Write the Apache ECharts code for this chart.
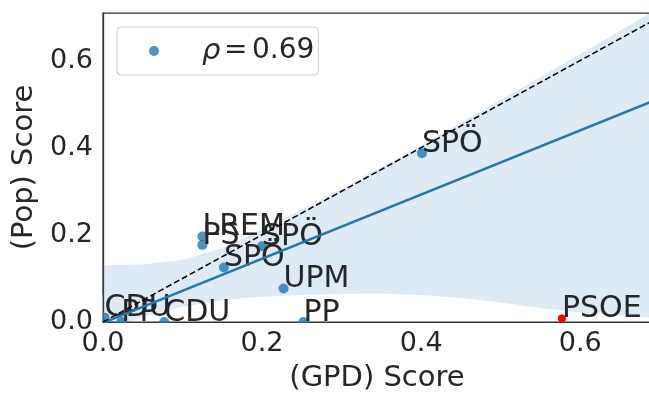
<!DOCTYPE html>
<html>
<head>
<meta charset="utf-8">
<script src="https://cdn.jsdelivr.net/npm/echarts@6/dist/echarts.min.js"></script>
<style>html,body{margin:0;padding:0;background:#fff;}#c{width:649px;height:393px;}</style>
</head>
<body>
<div id="c"></div>
<script>
// ---- data ----
const pointNames = ['LREM', 'PS', 'SPÖ', 'SPÖ', 'UPM', 'PP', 'CDU', 'PP', 'CDU', 'SPÖ'];
const gpdScore   = [0.125, 0.125, 0.200, 0.152, 0.227, 0.252, 0.002, 0.023, 0.077, 0.401];
const popScore   = [0.196, 0.177, 0.174, 0.125, 0.077, 0.000, 0.010, 0.000, 0.000, 0.387];
const outlierName = ['PSOE'];
const outlierGpd  = [0.577];
const outlierPop  = [0.008];
const regX = [0, 0.75];
const regY = [-0.002, 0.55];
const diagX = [0, 0.75];
const diagY = [0, 0.75];
const bandX    = [0, 0.05, 0.1, 0.15, 0.2, 0.25, 0.3, 0.35, 0.4, 0.45, 0.5, 0.55, 0.6, 0.65, 0.7, 0.75];
const bandHigh = [0.130, 0.132, 0.142, 0.170, 0.212, 0.258, 0.305, 0.355, 0.405, 0.457, 0.510, 0.562, 0.615, 0.668, 0.722, 0.775];
const bandLow  = [-0.030, 0.012, 0.035, 0.050, 0.058, 0.062, 0.064, 0.065, 0.062, 0.055, 0.045, 0.032, 0.022, 0.015, 0.008, 0.002];
const xTicks = [0, 0.2, 0.4, 0.6];
const yTicks = [0, 0.2, 0.4, 0.6];
const xMax = 0.689, yMax = 0.709;
const legendLabel = 'ρ = 0.69';

const FONT = 'DejaVu Sans';
const TXT = '#262626';
const isTick = (arr, v) => arr.some(t => Math.abs(t - v) < 1e-6);

const chart = echarts.init(document.getElementById('c'), null, {renderer: 'canvas'});
chart.setOption({
  animation: false,
  backgroundColor: '#ffffff',
  textStyle: {fontFamily: FONT, color: TXT},
  grid: {left: 103, top: 13, width: 548, height: 309, outerBoundsMode: 'none', containLabel: false,
    show: true, borderColor: '#333333', borderWidth: 1.25, backgroundColor: 'transparent'},
  legend: {
    left: 117, top: 27,
    padding: [9, 4, 9, 32],
    backgroundColor: 'rgba(255,255,255,0.8)',
    borderColor: '#d0d0d0', borderWidth: 1, borderRadius: 4,
    itemWidth: 10, itemHeight: 10,
    data: [{name: legendLabel, icon: 'circle', itemStyle: {color: '#1f77b4', opacity: 0.8}}],
    formatter: () => '{s| }{a|ρ}{e|=}{b|0.69}',
    textStyle: {
      fontFamily: FONT, color: TXT, fontSize: 28, lineHeight: 30,
      rich: {
        s: {width: 38, fontSize: 28, lineHeight: 30},
        a: {fontFamily: FONT, fontStyle: 'italic', fontSize: 29, color: TXT, lineHeight: 30, width: 22},
        e: {fontFamily: FONT, fontSize: 28, color: TXT, lineHeight: 30, width: 28},
        b: {fontFamily: FONT, fontSize: 28, color: TXT, lineHeight: 30}
      }
    }
  },
  xAxis: {
    type: 'value', min: 0, max: xMax, interval: 0.2,
    name: '(GPD) Score', nameLocation: 'middle', nameGap: 42,
    nameTextStyle: {fontFamily: FONT, fontSize: 29, color: TXT},
    axisLine: {show: true, onZero: false, lineStyle: {color: '#333333', width: 1.25}},
    axisTick: {show: false},
    splitLine: {show: false},
    axisLabel: {fontFamily: FONT, fontSize: 27, color: TXT, margin: 8,
      formatter: v => isTick(xTicks, v) ? v.toFixed(1) : ''}
  },
  yAxis: {
    type: 'value', min: 0, max: yMax, interval: 0.2,
    name: '(Pop) Score', nameLocation: 'middle', nameGap: 58,
    nameTextStyle: {fontFamily: FONT, fontSize: 29, color: TXT},
    axisLine: {show: true, onZero: false, lineStyle: {color: '#333333', width: 1.25}},
    axisTick: {show: false},
    splitLine: {show: false},
    axisLabel: {fontFamily: FONT, fontSize: 27, color: TXT, margin: 10,
      formatter: v => isTick(yTicks, v) ? v.toFixed(1) : ''}
  },
  graphic: [
    {type: 'rect', z: 5, silent: true, shape: {x: 96, y: 323, width: 560, height: 4.5}, style: {fill: '#ffffff'}},
    {type: 'rect', z: 5, silent: true, shape: {x: 95, y: 295, width: 7.3, height: 32}, style: {fill: '#ffffff'}}
  ],
  series: [
    {
      type: 'custom', name: 'band', z: 1, clip: true, silent: true,
      data: bandX.map((x, i) => [x, bandHigh[i]]),
      renderItem: (params, api) => {
        if (params.dataIndex !== 0) return null;
        const pts = [];
        for (let i = 0; i < bandX.length; i++) pts.push(api.coord([bandX[i], bandHigh[i]]));
        for (let i = bandX.length - 1; i >= 0; i--) pts.push(api.coord([bandX[i], bandLow[i]]));
        return {type: 'polygon', shape: {points: pts}, style: {fill: 'rgba(31,119,180,0.15)'}};
      }
    },
    {
      type: 'scatter', name: legendLabel, z: 3,
      symbol: 'circle', symbolSize: 10,
      itemStyle: {color: '#1f77b4', opacity: 0.8},
      data: gpdScore.map((x, i) => ({value: [x, popScore[i]], name: pointNames[i]})),
      labelLayout: {hideOverlap: false},
      label: {show: true, formatter: '{b}', position: [5, -4], align: 'left', verticalAlign: 'middle',
        fontFamily: FONT, fontSize: 30, color: TXT, lineHeight: 30, opacity: 1}
    },
    {
      type: 'line', name: 'reg', z: 4, clip: true, symbol: 'none', silent: true,
      data: regX.map((x, i) => [x, regY[i]]),
      lineStyle: {color: '#1f77b4', width: 2.5}
    },
    {
      type: 'line', name: 'diag', z: 4, clip: true, symbol: 'none', silent: true,
      data: diagX.map((x, i) => [x, diagY[i]]),
      lineStyle: {color: '#000000', width: 1.5, type: [6, 3]}
    },
    {
      type: 'scatter', name: 'outlier', z: 6,
      symbol: 'circle', symbolSize: 8,
      itemStyle: {color: '#ff0000', opacity: 1},
      data: outlierGpd.map((x, i) => ({value: [x, outlierPop[i]], name: outlierName[i]})),
      label: {show: true, formatter: '{b}', position: [4, -5], align: 'left', verticalAlign: 'middle',
        fontFamily: FONT, fontSize: 30, color: TXT, lineHeight: 30, opacity: 1}
    }
  ]
});
</script>
</body>
</html>
